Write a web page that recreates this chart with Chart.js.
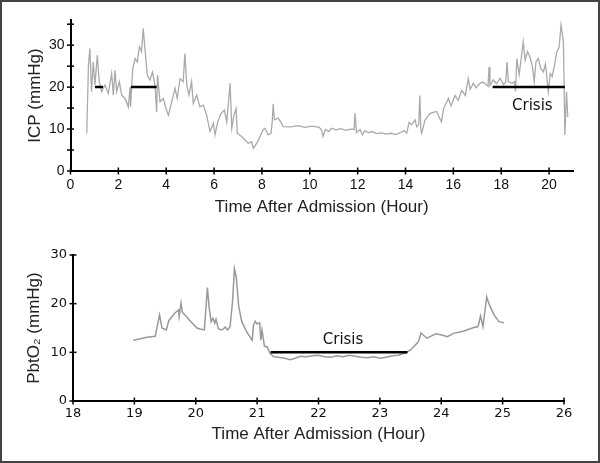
<!DOCTYPE html>
<html>
<head>
<meta charset="utf-8">
<script src="https://cdn.jsdelivr.net/npm/chart.js@4.4.0/dist/chart.umd.min.js"></script>
<style>
    html, body { margin: 0; padding: 0; background: #fff; }
    #wrap { position: relative; width: 600px; height: 463px; overflow: hidden; }
    #wrap canvas { position: absolute; left: 0; }
    #icp-chart { top: 0; }
    #pbto2-chart { top: 230px; }
    #frame {
        position: absolute; left: 0; top: 0; width: 600px; height: 463px;
        box-sizing: border-box; border: 2px solid #444; pointer-events: none;
    }
</style>
</head>
<body>
<div id="wrap">
    <canvas id="icp-chart" width="600" height="230"></canvas>
    <canvas id="pbto2-chart" width="600" height="233"></canvas>
    <div id="frame"></div>
</div>
<script>
// ICP trace (hours after admission, mmHg)
const icpHours = [
    0.68, 0.75, 0.81, 0.88, 0.95, 1.02, 1.12, 1.2, 1.3, 1.44, 1.58, 1.72, 1.79, 1.86, 1.93,
    2.04, 2.14, 2.28, 2.42, 2.49, 2.51, 2.6, 2.7, 2.79, 2.88, 2.97, 3.04, 3.11, 3.21, 3.32,
    3.43, 3.53, 3.6, 3.64, 3.74, 3.88, 3.99, 4.09, 4.23, 4.37, 4.46, 4.58, 4.71, 4.78, 4.86,
    4.95, 5.06, 5.13, 5.27, 5.41, 5.55, 5.69, 5.83, 5.97, 6.04, 6.15, 6.29, 6.43, 6.53, 6.67,
    6.74, 6.83, 6.92, 6.97, 7.15, 7.29, 7.43, 7.57, 7.64, 7.78, 7.92, 8.04, 8.13, 8.26, 8.38,
    8.43, 8.47, 8.52, 8.67, 8.82, 8.89, 9.2, 9.5, 9.8, 10.1, 10.4, 10.5, 10.55, 10.65, 10.8,
    10.9, 11.1, 11.3, 11.5, 11.7, 11.85, 11.89, 11.95, 12.1, 12.2, 12.3, 12.45, 12.6, 12.8,
    13.0, 13.2, 13.4, 13.6, 13.8, 13.95, 14.05, 14.15, 14.26, 14.4, 14.47, 14.55, 14.6, 14.64,
    14.68, 14.81, 15.02, 15.23, 15.3, 15.5, 15.6, 15.79, 15.9, 16.07, 16.2, 16.35, 16.5, 16.62,
    16.7, 16.83, 16.95, 17.04, 17.2, 17.32, 17.45, 17.49, 17.53, 17.67, 17.8, 17.95, 18.1,
    18.19, 18.24, 18.3, 18.45, 18.55, 18.6, 18.65, 18.75, 18.85, 18.92, 19.0, 19.1, 19.2,
    19.3, 19.38, 19.45, 19.55, 19.65, 19.76, 19.85, 19.97, 20.05, 20.13, 20.22, 20.32, 20.42,
    20.5, 20.6, 20.66, 20.73, 20.78
];
const icpValues = [
    9, 25.2, 29.2, 18.9, 26, 20.5, 27.6, 21.3, 18.9, 20.5, 18.5, 23.3, 18.1, 24, 18.9,
    21.3, 18.1, 17.3, 15.3, 20.1, 15.3, 24.4, 26.8, 26, 29.6, 28.4, 34, 29.2, 22.9, 21.7,
    23.6, 20.5, 14.1, 22.9, 16.5, 17.3, 14.9, 13.3, 16.5, 19.7, 17.3, 22, 21.3, 28, 20.5,
    18.1, 21.3, 16.1, 18.1, 15.3, 15.7, 13.3, 9.4, 11.4, 8.6, 11.7, 13.7, 14.5, 11.7, 20.9,
    10.2, 13.3, 14.9, 9, 8.2, 7.4, 6.6, 7, 5.4, 6.6, 8.2, 9.8, 10.2, 8.6, 9,
    11.7, 16, 12.2, 12.6, 11.4, 10.6, 10.5, 10.8, 10.4, 10.7, 10.4, 9.6, 8.2, 9.9, 9.4,
    10.2, 9.8, 10.1, 9.7, 10, 9.9, 13.8, 9.2, 9.9, 8.6, 9.6, 9.1, 9.4, 8.9,
    9.1, 8.8, 9.0, 8.7, 9.2, 9.6, 9.0, 11.6, 11, 12.2, 10.5, 11, 18, 10,
    9, 12.1, 13.7, 14.1, 14.2, 11.7, 15, 17.3, 15.5, 18, 16.8, 19.2, 18, 22,
    19.5, 20.9, 19.8, 20.5, 21.2, 20.9, 20.2, 24.8, 20.4, 21.7, 20.8, 22.1, 20.6,
    21.2, 26, 21.3, 20.9, 21.3, 19, 26.8, 23, 27.5, 30.8, 26.4, 28.5, 27.2,
    25.1, 21.3, 26, 26.8, 24.5, 23.6, 25.5, 18.9, 23.2, 22.5, 25, 28.4, 29.5,
    34.8, 30.8, 8.6, 18.9, 12.9
];
const icpCrisisStart = [1.02, 2.53, 17.64];
const icpCrisisEnd = [1.36, 3.6, 20.66];
const icpCrisisLevel = 20;
const icpHourTicks = [0, 2, 4, 6, 8, 10, 12, 14, 16, 18, 20];
const icpValueTicks = [0, 5, 10, 15, 20, 25, 30, 35];

// PbtO2 trace (hours after admission, mmHg)
const pbto2Hours = [
    18.98, 19.1, 19.2, 19.34, 19.41, 19.45, 19.52, 19.56, 19.66, 19.72, 19.73, 19.76, 19.78,
    19.9, 20.02, 20.07, 20.14, 20.19, 20.22, 20.25, 20.28, 20.31, 20.33, 20.37, 20.43, 20.48,
    20.52, 20.56, 20.6, 20.63, 20.66, 20.7, 20.75, 20.83, 20.92, 20.94, 20.97, 21.0, 21.04,
    21.06, 21.08, 21.12, 21.16, 21.21, 21.27, 21.35, 21.45, 21.54, 21.62, 21.7, 21.8, 21.9,
    22.0, 22.1, 22.2, 22.3, 22.4, 22.5, 22.6, 22.7, 22.8, 22.9, 23.0, 23.1, 23.2, 23.3,
    23.42, 23.5, 23.63, 23.67, 23.72, 23.77, 23.91, 24.01, 24.1, 24.2, 24.37, 24.53, 24.6,
    24.64, 24.68, 24.74, 24.78, 24.86, 24.94, 25.02
];
const pbto2Values = [
    12.5, 12.8, 13.1, 13.3, 17.7, 15.0, 14.6, 16.5, 18.1, 18.7, 17.4, 20.1, 18.3,
    16.6, 15.0, 14.8, 14.6, 23.3, 19.1, 16.3, 17.0, 16.0, 16.8, 14.8, 14.6, 15.2,
    14.6, 15.3, 20.5, 27.2, 25.5, 19.4, 16.3, 14.2, 12.5, 15.6, 16.4, 15.8, 16.1,
    12.5, 14.6, 11.2, 11.2, 9.8, 9.1, 9.0, 8.8, 8.5, 8.8, 9.2, 9.1, 9.3,
    9.4, 9.1, 9.0, 9.3, 9.1, 9.4, 9.2, 9.0, 8.9, 9.1, 8.8, 9.0, 9.3, 9.4,
    9.9, 10.5, 12.2, 14.0, 13.4, 12.9, 13.8, 13.55, 13.2, 13.9, 14.4, 15.1, 15.3,
    17.5, 15.3, 21.4, 19.9, 17.7, 16.3, 16.1
];
const pbto2CrisisStart = [21.22];
const pbto2CrisisEnd = [23.45];
const pbto2CrisisLevel = 10;
const pbto2HourTicks = [18, 19, 20, 21, 22, 23, 24, 25, 26];
const pbto2ValueTicks = [0, 10, 20, 30];

const crisisLabel = 'Crisis';

/**
 * Short tick marks crossing both axes, plus the "Crisis" text
 */
const axisMarks = {
    id: 'axisMarks',
    afterDraw(chart, args, opts) {
        const ctx = chart.ctx;
        const { x, y } = chart.scales;
        const area = chart.chartArea;
        ctx.save();
        ctx.strokeStyle = '#000';
        ctx.lineWidth = 1.5;
        opts.xTicks.forEach(v => {
            const px = x.getPixelForValue(v);
            ctx.beginPath();
            ctx.moveTo(px, area.bottom - 3.5);
            ctx.lineTo(px, area.bottom + 3.5);
            ctx.stroke();
        });
        opts.yTicks.forEach(v => {
            const py = y.getPixelForValue(v);
            ctx.beginPath();
            ctx.moveTo(area.left - 3.5, py);
            ctx.lineTo(area.left + 3.5, py);
            ctx.stroke();
        });
        ctx.fillStyle = '#111';
        ctx.font = '15px "DejaVu Sans"';
        ctx.textAlign = 'center';
        ctx.textBaseline = 'middle';
        ctx.fillText(crisisLabel, x.getPixelForValue(opts.label.x), y.getPixelForValue(opts.label.y));
        ctx.restore();
    }
};

function toPoints(xs, ys) {
    return xs.map((h, i) => ({ x: h, y: ys[i] }));
}

function crisisSets(starts, ends, level) {
    return starts.map((s, i) => ({
        data: [{ x: s, y: level }, { x: ends[i], y: level }],
        borderColor: '#000',
        borderWidth: 2.5,
        pointRadius: 0,
        order: 0
    }));
}

function makeChart(canvasId, cfg) {
    const tickFont = cfg.tickFont;
    const titleFont = { family: 'Liberation Sans, Arial, sans-serif', size: 17 };
    return new Chart(document.getElementById(canvasId), {
        type: 'line',
        data: {
            datasets: [
                ...crisisSets(cfg.crisisStart, cfg.crisisEnd, cfg.crisisLevel),
                {
                    data: toPoints(cfg.hours, cfg.values),
                    borderColor: cfg.lineColor,
                    borderWidth: cfg.lineWidth,
                    pointRadius: 0,
                    tension: 0,
                    order: 1
                }
            ]
        },
        options: {
            responsive: false,
            animation: false,
            devicePixelRatio: 1,
            layout: { padding: cfg.padding },
            plugins: {
                legend: { display: false },
                tooltip: { enabled: false },
                axisMarks: { xTicks: cfg.xTicks, yTicks: cfg.yTicks, label: cfg.label }
            },
            scales: {
                x: {
                    type: 'linear',
                    min: cfg.xMin,
                    max: cfg.xMax,
                    afterBuildTicks: s => { s.ticks = cfg.xTicks.map(v => ({ value: v })); },
                    afterFit: s => { s.height = cfg.xHeight; },
                    grid: { display: false, drawTicks: false },
                    border: { display: true, color: '#000', width: 2 },
                    ticks: {
                        padding: cfg.xTickPad, color: '#111', font: tickFont,
                        maxRotation: 0, autoSkip: false
                    },
                    title: {
                        display: true, text: 'Time After Admission (Hour)', color: '#222',
                        font: titleFont, padding: { top: 0, bottom: cfg.xTitlePad }
                    }
                },
                y: {
                    type: 'linear',
                    min: 0,
                    max: cfg.yMax,
                    afterBuildTicks: s => { s.ticks = cfg.yTicks.map(v => ({ value: v })); },
                    afterFit: s => { s.width = cfg.yWidth; },
                    grid: { display: false, drawTicks: false },
                    border: { display: true, color: '#000', width: 2 },
                    ticks: {
                        padding: 6, color: '#111', font: tickFont, autoSkip: false,
                        callback: v => (v % 10 === 0 ? v : '')
                    },
                    title: {
                        display: true, text: cfg.yTitle, color: '#222',
                        font: titleFont, padding: { top: cfg.yTitlePad, bottom: 0 }
                    }
                }
            }
        },
        plugins: [axisMarks]
    });
}

makeChart('icp-chart', {
    hours: icpHours, values: icpValues,
    crisisStart: icpCrisisStart, crisisEnd: icpCrisisEnd, crisisLevel: icpCrisisLevel,
    xTicks: icpHourTicks, yTicks: icpValueTicks,
    xMin: 0, xMax: 21, yMax: 36,
    lineColor: '#aaaaaa', lineWidth: 1.3,
    padding: { left: 0, right: 27, top: 20, bottom: 0 },
    xHeight: 59, yWidth: 70.5, xTickPad: 6, xTitlePad: 12, yTitlePad: 25,
    tickFont: { family: 'Liberation Sans, Arial, sans-serif', size: 14 },
    yTitle: 'ICP (mmHg)',
    label: { x: 19.3, y: 15.5 }
});

makeChart('pbto2-chart', {
    hours: pbto2Hours, values: pbto2Values,
    crisisStart: pbto2CrisisStart, crisisEnd: pbto2CrisisEnd, crisisLevel: pbto2CrisisLevel,
    xTicks: pbto2HourTicks, yTicks: pbto2ValueTicks,
    xMin: 18, xMax: 26, yMax: 30,
    lineColor: '#999999', lineWidth: 1.5,
    padding: { left: 0, right: 36, top: 25, bottom: 0 },
    xHeight: 62, yWidth: 73, xTickPad: 5, xTitlePad: 18, yTitlePad: 24,
    tickFont: { family: 'DejaVu Sans, sans-serif', size: 13 },
    yTitle: 'PbtO₂ (mmHg)',
    label: { x: 22.4, y: 12.5 }
});
</script>
</body>
</html>
